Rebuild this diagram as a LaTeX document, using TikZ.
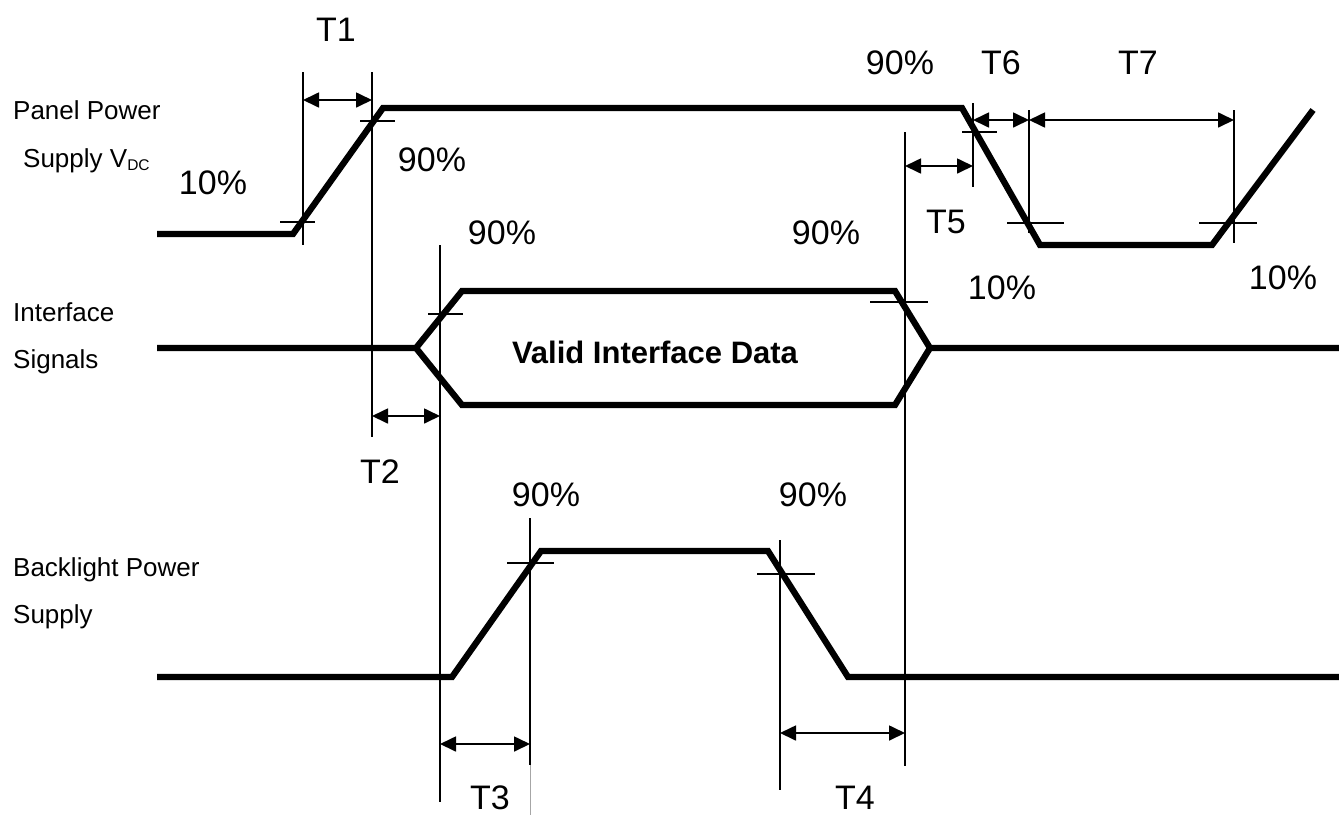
\documentclass[tikz,border=0pt]{standalone}
\usepackage{fontspec}
\setmainfont{Liberation Sans}
\usetikzlibrary{arrows.meta}
\tikzset{
  sig/.style={line width=6.3pt, line join=miter, line cap=butt},
  guide/.style={line width=1.5pt},
  tick/.style={line width=1.2pt},
  dim/.style={line width=1.7pt, {Triangle[length=16pt,width=15pt]}-{Triangle[length=16pt,width=15pt]}},
  big/.style={inner sep=0pt, font=\fontsize{34}{34}\selectfont},
  side/.style={inner sep=0pt, anchor=base west, font=\fontsize{26}{26}\selectfont},
  databox/.style={inner sep=0pt, anchor=base, font=\fontsize{31}{31}\selectfont\bfseries}
}
\begin{document}
\begin{tikzpicture}[x=1pt,y=-1pt]
\useasboundingbox (0,0) rectangle (1339,815);
\fill[white] (0,0) rectangle (1339,815);

% ---- panel power supply waveform
\coordinate (P1) at (157,234);
\coordinate (P2) at (293,234);
\coordinate (P3) at (383,108);
\coordinate (P4) at (962,108);
\coordinate (P5) at (1040,245);
\coordinate (P6) at (1212,245);
\coordinate (P7) at (1313,110);
\draw[sig] (P1) -- (P2) -- (P3) -- (P4) -- (P5) -- (P6) -- (P7);

% ---- interface signals
\coordinate (I1) at (157,348);
\coordinate (I2) at (416,348);
\coordinate (I3) at (462,291);
\coordinate (I4) at (895,291);
\coordinate (I5) at (930,348);
\coordinate (I6) at (1339,348);
\coordinate (I7) at (895,405);
\coordinate (I8) at (462,405);
\draw[sig] (I1) -- (I2) -- (I3) -- (I4) -- (I5) -- (I6);
\draw[sig] (I2) -- (I8) -- (I7) -- (I5);

% ---- backlight power supply
\coordinate (B1) at (157,677);
\coordinate (B2) at (452,677);
\coordinate (B3) at (541,551);
\coordinate (B4) at (768,551);
\coordinate (B5) at (848,677);
\coordinate (B6) at (1339,677);
\draw[sig] (B1) -- (B2) -- (B3) -- (B4) -- (B5) -- (B6);

% ---- guide lines
\coordinate (V1t) at (303,72);   \coordinate (V1b) at (303,245);
\coordinate (V2t) at (372,72);   \coordinate (V2b) at (372,437);
\coordinate (V3t) at (440,245);  \coordinate (V3b) at (440,802);
\coordinate (V4t) at (530,518);  \coordinate (V4b) at (530,765);
\coordinate (V5t) at (780,540);  \coordinate (V5b) at (780,790);
\coordinate (V6t) at (905,132);  \coordinate (V6b) at (905,766);
\coordinate (V7t) at (973,103);  \coordinate (V7b) at (973,187);
\coordinate (V8t) at (1029,110); \coordinate (V8b) at (1029,233);
\coordinate (V9t) at (1234,110); \coordinate (V9b) at (1234,243);
\foreach \v in {V1,V2,V3,V4,V5,V6,V7,V8,V9}
  \draw[guide] (\v t) -- (\v b);
\coordinate (V4x) at (530,815);
\draw[line width=1pt, black!35] (V4b) -- (V4x);

% ---- threshold ticks
\coordinate (t1a) at (280,222);  \coordinate (t1b) at (315,222);
\coordinate (t2a) at (360,121);  \coordinate (t2b) at (395,121);
\coordinate (t3a) at (428,314);  \coordinate (t3b) at (463,314);
\coordinate (t4a) at (870,302);  \coordinate (t4b) at (928,302);
\coordinate (t5a) at (962,132);  \coordinate (t5b) at (997,132);
\coordinate (t6a) at (1007,223); \coordinate (t6b) at (1064,223);
\coordinate (t7a) at (1199,223); \coordinate (t7b) at (1257,223);
\coordinate (t8a) at (507,563);  \coordinate (t8b) at (554,563);
\coordinate (t9a) at (757,574);  \coordinate (t9b) at (815,574);
\foreach \t in {t1,t2,t3,t4,t5,t6,t7,t8,t9}
  \draw[tick] (\t a) -- (\t b);

% ---- dimension arrows
\coordinate (D1a) at (303,100);  \coordinate (D1b) at (372,100);
\coordinate (D2a) at (372,416);  \coordinate (D2b) at (440,416);
\coordinate (D3a) at (440,744);  \coordinate (D3b) at (530,744);
\coordinate (D4a) at (780,733);  \coordinate (D4b) at (905,733);
\coordinate (D5a) at (905,166);  \coordinate (D5b) at (973,166);
\coordinate (D6a) at (973,120);  \coordinate (D6b) at (1029,120);
\coordinate (D7a) at (1029,120); \coordinate (D7b) at (1234,120);
\foreach \d in {D1,D2,D3,D4,D5,D6,D7}
  \draw[dim] (\d a) -- (\d b);

% ---- labels
\node[big] (lT1) at (336,30) {T1};
\node[big] (lT2) at (380,472) {T2};
\node[big] (lT3) at (490,798) {T3};
\node[big] (lT4) at (855,798) {T4};
\node[big] (lT5) at (946,222) {T5};
\node[big] (lT6) at (1001,63) {T6};
\node[big] (lT7) at (1138,63) {T7};

\node[big] (p90a) at (432,160) {90\%};
\node[big] (p90b) at (900,63) {90\%};
\node[big] (p90c) at (502,233) {90\%};
\node[big] (p90d) at (826,233) {90\%};
\node[big] (p90e) at (546,495) {90\%};
\node[big] (p90f) at (813,495) {90\%};
\node[big] (p10a) at (213,183) {10\%};
\node[big] (p10b) at (1002,288) {10\%};
\node[big] (p10c) at (1283,278) {10\%};

\node[side] (s1) at (13,119) {Panel Power};
\node[side] (s2) at (23,167) {Supply V{\fontsize{15.5}{15.5}\selectfont\raisebox{-3pt}{DC}}};
\node[side] (s3) at (13,321) {Interface};
\node[side] (s4) at (13,368) {Signals};
\node[side] (s5) at (13,576) {Backlight Power};
\node[side] (s6) at (13,623) {Supply};

\node[databox] (data) at (655,363) {Valid Interface Data};
\end{tikzpicture}
\end{document}
